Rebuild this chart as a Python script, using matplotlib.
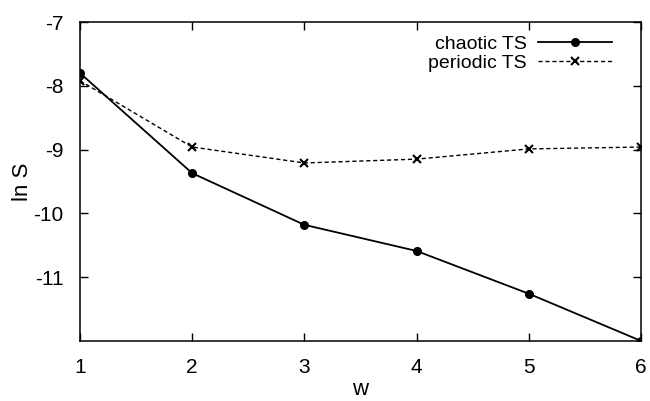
import matplotlib
matplotlib.use("Agg")
import matplotlib.pyplot as plt

# data
w = [1, 2, 3, 4, 5, 6]
chaotic = [-7.80, -9.37, -10.18, -10.59, -11.26, -12.0]
periodic = [-7.92, -8.96, -9.21, -9.15, -8.99, -8.96]

yticks = [-11, -10, -9, -8, -7]

plt.rcParams['font.family'] = ['Liberation Sans', 'DejaVu Sans']
plt.rcParams['axes.unicode_minus'] = False

fig = plt.figure(figsize=(6.5, 4.01), dpi=100)
ax = fig.add_axes([0.123, 0.150, 0.863, 0.795])

ax.plot(w, chaotic, color='black', lw=1.3, marker='o', ms=5.5, label='chaotic TS')
ax.plot(w, periodic, color='black', lw=1.0, ls=(0, (3, 2)), marker='x', ms=6,
        mew=1.5, label='periodic TS')

ax.set_xlim(1, 6)
ax.set_ylim(-12, -7)
ax.set_xticks(w)
ax.set_yticks(yticks)
ax.tick_params(direction='in', length=6, width=1, top=True, right=True,
               labelsize=15, pad=12)
for s in ax.spines.values():
    s.set_linewidth(1.1)

ax.set_xlabel('w', fontsize=16, labelpad=2)
ax.set_ylabel('ln S', fontsize=16, labelpad=0)

ax.legend(loc='upper right', bbox_to_anchor=(0.9626, 0.984), frameon=False,
          markerfirst=False, fontsize=14, handlelength=3.8, borderaxespad=0,
          labelspacing=0.1, handletextpad=0.6)

fig.savefig('out.png', dpi=100)
